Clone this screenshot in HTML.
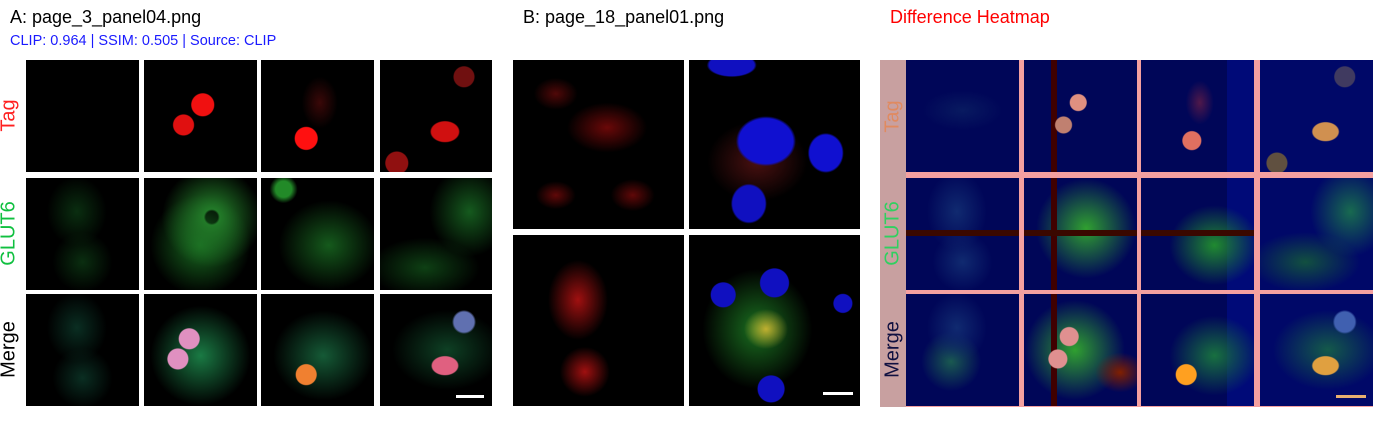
<!DOCTYPE html>
<html><head><meta charset="utf-8"><style>
body{margin:0;width:1373px;height:427px;background:#fff;position:relative;overflow:hidden;font-family:"Liberation Sans",sans-serif}
.t{position:absolute;font-size:18px;color:#000;white-space:nowrap}
.c{position:absolute;background:#000;overflow:hidden}
.lbl{position:absolute;font-size:20px;transform:rotate(-90deg);transform-origin:center;white-space:nowrap;text-align:center;width:112px}
.h{position:absolute;background:#000658;overflow:hidden}
</style></head><body>
<div class="t" style="left:10px;top:7px">A: page_3_panel04.png</div>
<div class="t" style="left:10px;top:33px;font-size:14.5px;color:#1a1aff">CLIP: 0.964 | SSIM: 0.505 | Source: CLIP</div>
<div class="t" style="left:523px;top:7px">B: page_18_panel01.png</div>
<div class="t" style="left:890px;top:7px;color:#ff0000">Difference Heatmap</div>

<div>
<div class="lbl" style="left:-47px;top:104px;color:#ff2020">Tag</div>
<div class="lbl" style="left:-47px;top:222px;color:#10c040">GLUT6</div>
<div class="lbl" style="left:-47px;top:338px;color:#000">Merge</div>
<div class="c" style="left:26px;top:60px;width:113px;height:112px"></div>
<div class="c" style="left:144px;top:60px;width:113px;height:112px;background:radial-gradient(circle at 52% 40%,#f01010 0 11px,transparent 12px),radial-gradient(circle at 35% 58%,#e01010 0 10px,transparent 11px),#000"></div>
<div class="c" style="left:261px;top:60px;width:113px;height:112px;background:radial-gradient(circle at 40% 70%,#ff1010 0 11px,transparent 12px),radial-gradient(ellipse 18px 26px at 52% 38%,#3a0808,transparent),#000"></div>
<div class="c" style="left:380px;top:60px;width:112px;height:112px;background:radial-gradient(ellipse 15px 11px at 58% 64%,#d01010 90%,transparent),radial-gradient(circle at 75% 15%,#701010 0 10px,transparent 11px),radial-gradient(circle at 15% 92%,#901010 0 11px,transparent 12px),#000"></div>
<div class="c" style="left:26px;top:178px;width:113px;height:112px;background:radial-gradient(ellipse 30px 35px at 45% 30%,#0a2e10,transparent),radial-gradient(ellipse 30px 30px at 50% 75%,#0a2e10,transparent),#000"></div>
<div class="c" style="left:144px;top:178px;width:113px;height:112px;background:radial-gradient(circle at 60% 35%,transparent 0 6px,#227a28 8px,transparent 50px),radial-gradient(ellipse 50px 50px at 50% 60%,#186a20,transparent),#000"></div>
<div class="c" style="left:261px;top:178px;width:113px;height:112px;background:radial-gradient(ellipse 50px 45px at 60% 60%,#155a1c,transparent),radial-gradient(circle at 20% 10%,#228a28 0 8px,transparent 14px),#000"></div>
<div class="c" style="left:380px;top:178px;width:112px;height:112px;background:radial-gradient(ellipse 40px 45px at 80% 30%,#155a1e,transparent),radial-gradient(ellipse 55px 30px at 40% 80%,#0e4014,transparent),#000"></div>
<div class="c" style="left:26px;top:294px;width:113px;height:112px;background:radial-gradient(ellipse 30px 35px at 45% 30%,#0a2e22,transparent),radial-gradient(ellipse 30px 30px at 50% 75%,#0a2e22,transparent),#000"></div>
<div class="c" style="left:144px;top:294px;width:113px;height:112px;background:radial-gradient(circle at 40% 40%,#e090c0 0 10px,transparent 11px),radial-gradient(circle at 30% 58%,#e090c0 0 10px,transparent 11px),radial-gradient(ellipse 50px 50px at 50% 55%,#1a7a44,transparent),#000"></div>
<div class="c" style="left:261px;top:294px;width:113px;height:112px;background:radial-gradient(circle at 40% 72%,#f08030 0 10px,transparent 11px),radial-gradient(ellipse 50px 45px at 55% 55%,#155a36,transparent),#000"></div>
<div class="c" style="left:380px;top:294px;width:112px;height:112px;background:radial-gradient(ellipse 14px 10px at 58% 64%,#e06080 90%,transparent),radial-gradient(circle at 75% 25%,#6070b0 0 10px,transparent 12px),radial-gradient(ellipse 55px 40px at 60% 50%,#0e4024,transparent),#000">
<div style="position:absolute;left:76px;top:101px;width:28px;height:3px;background:#fff"></div></div>
</div>

<div>
<div class="c" style="left:513px;top:60px;width:171px;height:169px;background:radial-gradient(ellipse 40px 25px at 55% 40%,#6a0808,transparent),radial-gradient(ellipse 22px 16px at 25% 20%,#500808,transparent),radial-gradient(ellipse 22px 16px at 70% 80%,#600808,transparent),radial-gradient(ellipse 20px 14px at 25% 80%,#600808,transparent),#000"></div>
<div class="c" style="left:689px;top:60px;width:171px;height:169px;background:radial-gradient(ellipse 30px 25px at 45% 48%,#1010d0 90%,transparent),radial-gradient(ellipse 18px 20px at 80% 55%,#1010d0 90%,transparent),radial-gradient(ellipse 18px 20px at 35% 85%,#1010c0 90%,transparent),radial-gradient(ellipse 25px 12px at 25% 3%,#1010c0 90%,transparent),radial-gradient(ellipse 50px 40px at 40% 60%,#4a1010,transparent),#000"></div>
<div class="c" style="left:513px;top:235px;width:171px;height:171px;background:radial-gradient(ellipse 30px 40px at 38% 38%,#a01010,transparent),radial-gradient(ellipse 25px 25px at 42% 80%,#a01010,transparent),#000"></div>
<div class="c" style="left:689px;top:235px;width:171px;height:171px;background:radial-gradient(circle at 20% 35%,#1010c0 0 12px,transparent 13px),radial-gradient(circle at 50% 28%,#1010c0 0 14px,transparent 15px),radial-gradient(ellipse 22px 20px at 45% 55%,#c0b030,transparent),radial-gradient(circle at 48% 90%,#1010c0 0 13px,transparent 14px),radial-gradient(circle at 90% 40%,#1010c0 0 9px,transparent 10px),radial-gradient(ellipse 55px 60px at 40% 55%,#1a7020,transparent),#000">
<div style="position:absolute;left:134px;top:157px;width:30px;height:3px;background:#fff"></div></div>
</div>

<div style="position:absolute;left:880px;top:60px;width:493px;height:347px;background:#f4a0a0">
<div style="position:absolute;left:0;top:0;width:26px;height:347px;background:#c8a0a0"></div>
<div class="lbl" style="left:-43px;top:45px;color:#e08a60">Tag</div>
<div class="lbl" style="left:-43px;top:162px;color:#30d060">GLUT6</div>
<div class="lbl" style="left:-43px;top:278px;color:#101040">Merge</div>
<div class="h" style="left:26px;top:0;width:113px;height:112px;background:radial-gradient(ellipse 40px 20px at 50% 45%,#081a60,transparent),#000658"></div>
<div class="h" style="left:144px;top:0;width:113px;height:112px;background:radial-gradient(circle at 48% 38%,#e09080 0 8px,transparent 9px),radial-gradient(circle at 35% 58%,#c08070 0 8px,transparent 9px),linear-gradient(90deg,transparent 27px,#400000 27px 33px,transparent 33px),#000658"></div>
<div class="h" style="left:261px;top:0;width:113px;height:112px;background:radial-gradient(circle at 45% 72%,#e07060 0 9px,transparent 10px),radial-gradient(ellipse 14px 22px at 52% 38%,#50184a,transparent),linear-gradient(90deg,transparent 86px,#000a78 86px),#000658"></div>
<div class="h" style="left:380px;top:0;width:113px;height:112px;background:radial-gradient(ellipse 14px 10px at 58% 64%,#d09050 90%,transparent),radial-gradient(circle at 75% 15%,#403a60 0 10px,transparent 11px),radial-gradient(circle at 15% 92%,#605040 0 10px,transparent 11px),#000868"></div>
<div class="h" style="left:26px;top:118px;width:113px;height:112px;background:linear-gradient(180deg,transparent 52px,#3a0800 52px 58px,transparent 58px),radial-gradient(ellipse 30px 40px at 45% 30%,#102a70,transparent),radial-gradient(ellipse 30px 30px at 50% 75%,#102a70,transparent),#000658"></div>
<div class="h" style="left:144px;top:118px;width:113px;height:112px;background:linear-gradient(180deg,transparent 52px,#3a0800 52px 58px,transparent 58px),linear-gradient(90deg,transparent 27px,#400000 27px 33px,transparent 33px),radial-gradient(ellipse 50px 50px at 55% 45%,#30a030,transparent),#000658"></div>
<div class="h" style="left:261px;top:118px;width:113px;height:112px;background:linear-gradient(180deg,transparent 52px,#3a0800 52px 58px,transparent 58px),radial-gradient(ellipse 45px 40px at 65% 60%,#208a30,transparent),linear-gradient(90deg,transparent 86px,#000a78 86px),#000658"></div>
<div class="h" style="left:380px;top:118px;width:113px;height:112px;background:radial-gradient(ellipse 40px 45px at 80% 30%,#186a50,transparent),radial-gradient(ellipse 55px 30px at 40% 75%,#125040,transparent),#000868"></div>
<div class="h" style="left:26px;top:234px;width:113px;height:112px;background:radial-gradient(ellipse 30px 35px at 45% 30%,#102a70,transparent),radial-gradient(ellipse 30px 30px at 40% 60%,#1a5a50,transparent),#000658"></div>
<div class="h" style="left:144px;top:234px;width:113px;height:112px;background:radial-gradient(circle at 40% 38%,#e09090 0 9px,transparent 10px),radial-gradient(circle at 30% 58%,#e09090 0 9px,transparent 10px),radial-gradient(ellipse 25px 20px at 85% 70%,#802000,transparent),linear-gradient(90deg,transparent 27px,#400000 27px 33px,transparent 33px),radial-gradient(ellipse 50px 50px at 45% 50%,#30a030,transparent),#000658"></div>
<div class="h" style="left:261px;top:234px;width:113px;height:112px;background:radial-gradient(circle at 40% 72%,#ffa020 0 10px,transparent 11px),radial-gradient(ellipse 45px 40px at 65% 55%,#187040,transparent),linear-gradient(90deg,transparent 86px,#000a78 86px),#000658"></div>
<div class="h" style="left:380px;top:234px;width:113px;height:112px;background:radial-gradient(ellipse 14px 10px at 58% 64%,#e0a040 90%,transparent),radial-gradient(circle at 75% 25%,#4060b0 0 10px,transparent 12px),radial-gradient(ellipse 55px 40px at 60% 50%,#145a4a,transparent),#000868">
<div style="position:absolute;left:76px;top:101px;width:30px;height:3px;background:#e8b070"></div></div>
</div>
</body></html>
